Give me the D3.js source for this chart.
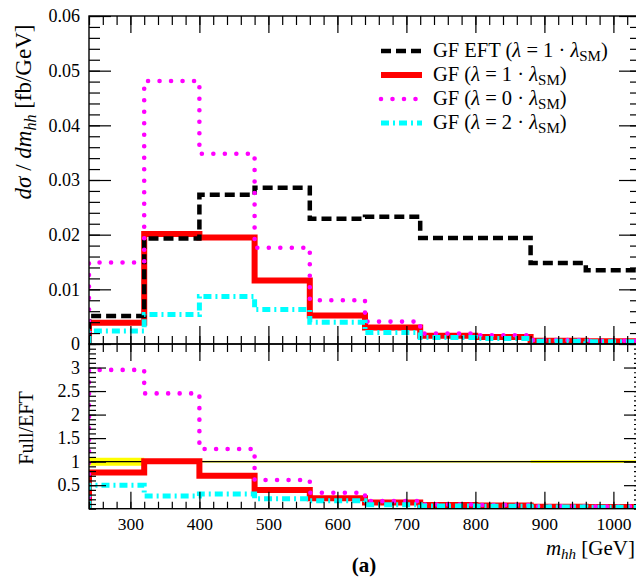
<!DOCTYPE html>
<html>
<head>
<meta charset="utf-8">
<script src="https://cdn.jsdelivr.net/npm/d3@7/dist/d3.min.js"></script>
<style>
  body { margin: 0; background: #fff; }
  text { font-family: "Liberation Serif", "DejaVu Serif", serif; fill: #000; }
  .tick line { stroke: #000; stroke-width: 1.2; }
  .domain { display: none; }
</style>
</head>
<body>
<div id="chart"></div>
<script>
// bin edges in GeV
var binEdges = [240, 320, 400, 480, 560, 640, 720, 800, 880, 960, 1040];

// d sigma / d m_hh [fb/GeV]
var gfEft  = [0.0051, 0.0193, 0.0273, 0.0286, 0.0229, 0.0233, 0.0194, 0.0194, 0.0148, 0.0135];
var gfLam1 = [0.0039, 0.0201, 0.0195, 0.0116, 0.0052, 0.0030, 0.0015, 0.0013, 0.0006, 0.0005];
var gfLam0 = [0.0149, 0.0481, 0.0348, 0.0176, 0.0080, 0.0041, 0.0019, 0.0016, 0.0007, 0.0006];
var gfLam2 = [0.0024, 0.0054, 0.0087, 0.0063, 0.0040, 0.0021, 0.0012, 0.0010, 0.0005, 0.0004];

// Full/EFT ratios
var ratioLam1 = [0.77, 1.01, 0.70, 0.40, 0.22, 0.13, 0.08, 0.07, 0.04, 0.035];
var ratioLam0 = [2.95, 2.45, 1.27, 0.61, 0.34, 0.16, 0.09, 0.08, 0.05, 0.045];
var ratioLam2 = [0.50, 0.27, 0.31, 0.21, 0.17, 0.085, 0.06, 0.05, 0.035, 0.03];
var bandErr   = [0.085, 0.03, 0.02, 0.02, 0.02, 0.02, 0.02, 0.02, 0.03, 0.03];

var xTicks = [300, 400, 500, 600, 700, 800, 900, 1000];
var yTopTicks = [0, 0.01, 0.02, 0.03, 0.04, 0.05, 0.06];
var yBotTicks = [0.5, 1, 1.5, 2, 2.5, 3];

var W = 636, H = 578;
var pLeft = 89, pRight = 641, pTop = 16, pMid = 344, pBottom = 508.7;

var svg = d3.select("#chart").append("svg")
    .attr("width", W)
    .attr("height", H);

var x = d3.scaleLinear().domain([240, 1040]).range([pLeft, pRight]);
var yTop = d3.scaleLinear().domain([0, 0.06]).range([pMid, pTop]);
var yBot = d3.scaleLinear().domain([0, 3.5]).range([pBottom, pMid]);

var xMinor = d3.range(240, 1041, 20);

svg.append("clipPath").attr("id", "clipTop").append("rect")
    .attr("x", pLeft).attr("y", pTop).attr("width", pRight - pLeft).attr("height", pMid - pTop);
svg.append("clipPath").attr("id", "clipBot").append("rect")
    .attr("x", pLeft).attr("y", pMid).attr("width", pRight - pLeft).attr("height", pBottom - pMid);

// histogram outline starting at zero on the left edge
function stepPath(vals, y) {
    var pts = [[binEdges[0], 0]];
    vals.forEach(function(v, i) { pts.push([binEdges[i], v]); });
    pts.push([binEdges[binEdges.length - 1], vals[vals.length - 1]]);
    return d3.line()
        .x(function(d) { return x(d[0]); })
        .y(function(d) { return y(d[1]); })
        .curve(d3.curveStepAfter)(pts);
}

var styles = {
    eft:  { stroke: "#000000", width: 4.5, dash: "10,5", cap: "butt" },
    lam1: { stroke: "#ff0000", width: 6, dash: null, cap: "butt" },
    lam0: { stroke: "#ff00ff", width: 4.6, dash: "0,11.5", cap: "round" },
    lam2: { stroke: "#00ffff", width: 5, dash: "8,4,2,4", cap: "butt" }
};

function drawHist(g, vals, y, st) {
    g.append("path")
        .attr("d", stepPath(vals, y))
        .attr("fill", "none")
        .attr("stroke", st.stroke)
        .attr("stroke-width", st.width)
        .attr("stroke-dasharray", st.dash)
        .attr("stroke-linecap", st.cap);
}

// ---- top panel
var gTop = svg.append("g").attr("clip-path", "url(#clipTop)");
drawHist(gTop, gfLam1, yTop, styles.lam1);
drawHist(gTop, gfEft, yTop, styles.eft);
drawHist(gTop, gfLam0, yTop, styles.lam0);
drawHist(gTop, gfLam2, yTop, styles.lam2);

// ---- bottom panel
var gBot = svg.append("g").attr("clip-path", "url(#clipBot)");
var bandArea = d3.area()
    .x(function(d) { return x(d.x); })
    .y0(function(d) { return yBot(1 - d.e); })
    .y1(function(d) { return yBot(1 + d.e); })
    .curve(d3.curveStepAfter);
var bandPts = bandErr.map(function(e, i) { return { x: binEdges[i], e: e }; });
bandPts.push({ x: binEdges[binEdges.length - 1], e: bandErr[bandErr.length - 1] });
gBot.append("path")
    .attr("d", bandArea(bandPts))
    .attr("fill", "#ffff00");
gBot.append("line")
    .attr("x1", pLeft).attr("x2", pRight)
    .attr("y1", yBot(1)).attr("y2", yBot(1))
    .attr("stroke", "#000").attr("stroke-width", 1.3);
drawHist(gBot, ratioLam1, yBot, styles.lam1);
drawHist(gBot, ratioLam0, yBot, styles.lam0);
drawHist(gBot, ratioLam2, yBot, styles.lam2);

// ---- frames
[[pTop, pMid], [pMid, pBottom]].forEach(function(p) {
    svg.append("rect")
        .attr("x", pLeft).attr("y", p[0])
        .attr("width", pRight - pLeft).attr("height", p[1] - p[0])
        .attr("fill", "none").attr("stroke", "#000").attr("stroke-width", 1.4);
});

function addAxis(axis, tx, ty) {
    return svg.append("g")
        .attr("transform", "translate(" + tx + "," + ty + ")")
        .call(axis);
}
var noLabel = function() { return ""; };

// x ticks: top edge, middle line (both sides), bottom edge
addAxis(d3.axisTop(x).tickValues(xTicks).tickSize(-17).tickFormat(noLabel), 0, pTop);
addAxis(d3.axisTop(x).tickValues(xMinor).tickSize(-9).tickFormat(noLabel), 0, pTop);
addAxis(d3.axisBottom(x).tickValues(xTicks).tickSize(-18).tickFormat(noLabel), 0, pMid);
addAxis(d3.axisBottom(x).tickValues(xMinor).tickSize(-8).tickFormat(noLabel), 0, pMid);
addAxis(d3.axisBottom(x).tickValues(xTicks).tickSize(17).tickFormat(noLabel), 0, pMid);
addAxis(d3.axisBottom(x).tickValues(xMinor).tickSize(8).tickFormat(noLabel), 0, pMid);
addAxis(d3.axisBottom(x).tickValues(xMinor).tickSize(-7).tickFormat(noLabel), 0, pBottom);
var xLab = addAxis(d3.axisBottom(x).tickValues(xTicks).tickSize(-17).tickPadding(9)
    .tickFormat(function(d) { return String(d); }), 0, pBottom);
xLab.selectAll("text").style("font-size", "17.5px");

// y ticks top panel
var yTopMinor = d3.range(0, 0.0601, 0.002);
addAxis(d3.axisLeft(yTop).tickValues(yTopMinor).tickSize(-11).tickFormat(noLabel), pLeft, 0);
addAxis(d3.axisRight(yTop).tickValues(yTopMinor).tickSize(-11).tickFormat(noLabel), pRight, 0);
addAxis(d3.axisRight(yTop).tickValues(yTopTicks).tickSize(-22).tickFormat(noLabel), pRight, 0);
var yTopLab = addAxis(d3.axisLeft(yTop).tickValues(yTopTicks).tickSize(-22).tickPadding(9)
    .tickFormat(function(d) { return d === 0 ? "0" : d3.format(".2f")(d); }), pLeft, 0);
yTopLab.selectAll("text").style("font-size", "18px");

// y ticks bottom panel
var yBotMinor = d3.range(0, 3.501, 0.1);
addAxis(d3.axisLeft(yBot).tickValues(yBotMinor).tickSize(-7).tickFormat(noLabel), pLeft, 0);
addAxis(d3.axisRight(yBot).tickValues(yBotMinor).tickSize(-7).tickFormat(noLabel), pRight, 0);
addAxis(d3.axisRight(yBot).tickValues(yBotTicks).tickSize(-17).tickFormat(noLabel), pRight, 0);
var yBotLab = addAxis(d3.axisLeft(yBot).tickValues(yBotTicks).tickSize(-17).tickPadding(9)
    .tickFormat(function(d) { return String(d); }), pLeft, 0);
yBotLab.selectAll("text").style("font-size", "18px");

// ---- axis titles
var yTitle = svg.append("text")
    .attr("transform", "translate(31,112) rotate(-90)")
    .attr("text-anchor", "middle")
    .style("font-size", "23px");
yTitle.append("tspan").style("font-style", "italic").text("dσ");
yTitle.append("tspan").text(" / ");
yTitle.append("tspan").style("font-style", "italic").text("dm");
yTitle.append("tspan").style("font-style", "italic").style("font-size", "16px").attr("dy", 5).text("hh");
yTitle.append("tspan").attr("dy", -5).text(" [fb/GeV]");

svg.append("text")
    .attr("transform", "translate(33,428) rotate(-90)")
    .attr("text-anchor", "middle")
    .style("font-size", "20px")
    .text("Full/EFT");

var xTitle = svg.append("text")
    .attr("x", 635).attr("y", 555)
    .attr("text-anchor", "end")
    .style("font-size", "21px");
xTitle.append("tspan").style("font-style", "italic").text("m");
xTitle.append("tspan").style("font-style", "italic").style("font-size", "15px").attr("dy", 4).text("hh");
xTitle.append("tspan").attr("dy", -4).text(" [GeV]");

svg.append("text")
    .attr("x", 364).attr("y", 572)
    .attr("text-anchor", "middle")
    .style("font-size", "21px")
    .style("font-weight", "bold")
    .text("(a)");

// ---- legend
var legendNames = ["GF EFT (", "GF (", "GF (", "GF ("];
var legendFactor = ["1", "1", "0", "2"];
var legendStyles = [styles.eft, styles.lam1, styles.lam0, styles.lam2];

legendNames.forEach(function(name, i) {
    var ly = 51 + i * 24;
    var st = legendStyles[i];
    svg.append("line")
        .attr("x1", 381).attr("x2", 422)
        .attr("y1", ly).attr("y2", ly)
        .attr("stroke", st.stroke)
        .attr("stroke-width", st.width)
        .attr("stroke-dasharray", st.dash)
        .attr("stroke-linecap", st.cap);
    var t = svg.append("text")
        .attr("x", 433).attr("y", ly + 6)
        .style("font-size", "20.5px");
    t.append("tspan").text(name);
    t.append("tspan").style("font-style", "italic").text("λ");
    t.append("tspan").text(" = " + legendFactor[i] + " · ");
    t.append("tspan").style("font-style", "italic").text("λ");
    t.append("tspan").style("font-size", "15px").attr("dy", 4).text("SM");
    t.append("tspan").attr("dy", -4).text(")");
});
</script>
</body>
</html>
